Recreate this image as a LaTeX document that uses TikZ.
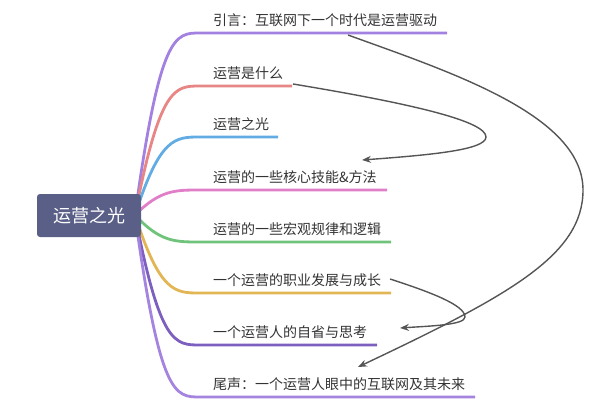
\documentclass[tikz,border=0pt]{standalone}
\usepackage{fontspec}
\setmainfont{Noto Sans CJK SC}
\usetikzlibrary{arrows.meta}
\definecolor{rootfill}{HTML}{5A5F87}
\definecolor{txt}{HTML}{333333}
\definecolor{arr}{HTML}{555555}
\definecolor{cA}{HTML}{A381E0}
\definecolor{cB}{HTML}{E88585}
\definecolor{cC}{HTML}{63ACE3}
\definecolor{cD}{HTML}{E07FC8}
\definecolor{cE}{HTML}{70C37A}
\definecolor{cF}{HTML}{E3B655}
\definecolor{cG}{HTML}{7D5FBF}
\definecolor{cH}{HTML}{A584E0}
\tikzset{
  branch/.style={line width=2.8pt},
  label/.style={anchor=west, inner sep=0pt, font=\fontsize{14}{16}\selectfont, text=txt},
  rootbox/.style={fill=rootfill, rounded corners=3pt, minimum width=104pt, minimum height=43pt, text=white, font=\fontsize{18}{20}\selectfont, inner sep=0pt},
  link/.style={draw=arr, line width=1.4pt, -{Stealth[length=9pt,width=7pt]}}
}
\begin{document}
\begin{tikzpicture}[x=1pt,y=-1pt]
\useasboundingbox (0,0) rectangle (607,415);
\coordinate (root) at (135,215);
% branches
\foreach \n/\y/\e/\c in {1/33/447/cA,2/86/292/cB,3/137/278/cC,4/190/387/cD,5/242/391/cE,6/293/391/cF,7/345/377/cG,8/397/475/cH}{
  \coordinate (b\n) at (200,\y);
  \coordinate (e\n) at (\e,\y);
  \draw[branch, draw=\c] (root) .. controls (160,\y) and (175,\y) .. (b\n) -- (e\n);
}
\node[rootbox] (center) at (89,215.5) {运营之光};
\node[label] (t1) at (213,20) {引言：互联网下一个时代是运营驱动};
\node[label] (t2) at (213,73) {运营是什么};
\node[label] (t3) at (213,124) {运营之光};
\node[label] (t4) at (213,177) {运营的一些核心技能\&方法};
\node[label] (t5) at (213,229) {运营的一些宏观规律和逻辑};
\node[label] (t6) at (213,280) {一个运营的职业发展与成长};
\node[label] (t7) at (213,332) {一个运营人的自省与思考};
\node[label] (t8) at (213,384) {尾声：一个运营人眼中的互联网及其未来};
% arrow anchors
\coordinate (a1s) at (348,35);
\coordinate (a1m) at (583,190);
\coordinate (a1e) at (358,367);
\coordinate (a2s) at (293,84);
\coordinate (a2m) at (486,137);
\coordinate (a2e) at (362,160);
\coordinate (a3s) at (390,279);
\coordinate (a3m) at (465,317);
\coordinate (a3e) at (400,328);
\draw[link] (a1s) .. controls (450,72) and (583,115) .. (a1m) .. controls (583,255) and (510,295) .. (a1e);
\draw[link] (a2s) .. controls (420,105) and (486,122) .. (a2m) .. controls (486,150) and (430,155) .. (a2e);
\draw[link] (a3s) .. controls (430,292) and (465,305) .. (a3m) .. controls (465,325) and (430,326) .. (a3e);
\end{tikzpicture}
\end{document}
